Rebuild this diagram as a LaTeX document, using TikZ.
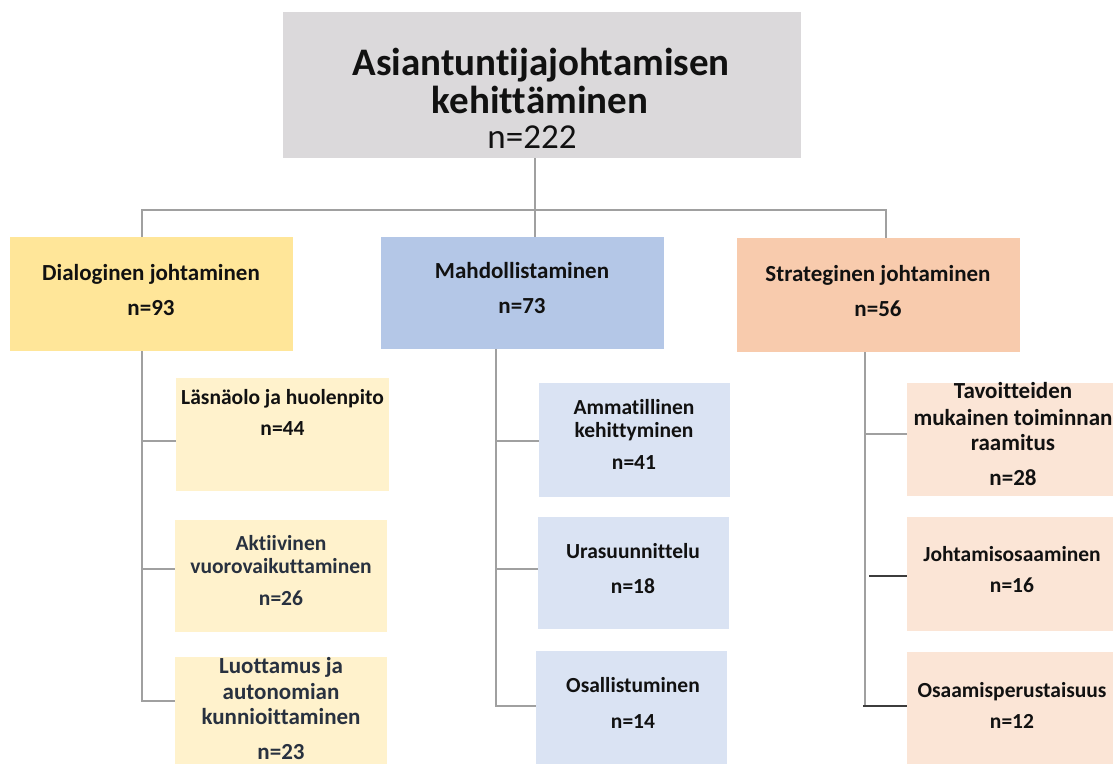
\documentclass[tikz,border=0pt]{standalone}
\usepackage{fontspec}
\setmainfont{Carlito}[Ligatures=NoCommon]
\definecolor{topfill}{HTML}{DBD9DB}
\definecolor{dialfill}{HTML}{FFE699}
\definecolor{dialsub}{HTML}{FFF2CC}
\definecolor{mahdfill}{HTML}{B4C7E7}
\definecolor{mahdsub}{HTML}{DAE3F3}
\definecolor{stratfill}{HTML}{F8CBAD}
\definecolor{stratsub}{HTML}{FBE5D6}
\definecolor{linegray}{HTML}{A0A0A0}
\definecolor{linedark}{HTML}{3C3C3C}
\definecolor{inkdark}{HTML}{111111}
\definecolor{inkslate}{HTML}{28313F}
\begin{document}
\begin{tikzpicture}[x=1pt,y=-1pt,
  box/.style={draw=none,inner sep=0pt,outer sep=0pt,anchor=north west},
  conn/.style={draw=linegray,line width=1.4pt},
  conndark/.style={draw=linedark,line width=1.4pt},
  ttl/.style={anchor=base,inner sep=0pt,text=inkdark,font=\fontsize{39}{46}\selectfont\bfseries},
  ttn/.style={anchor=base,inner sep=0pt,text=inkdark,font=\fontsize{35}{42}\selectfont},
  lvl/.style={anchor=base,inner sep=0pt,text=inkdark,font=\fontsize{23}{28}\selectfont\bfseries},
  sub/.style={anchor=base,inner sep=0pt,text=inkdark,font=\fontsize{21.5}{26}\selectfont\bfseries},
  subw/.style={sub,font=\fontsize{23}{28}\selectfont\bfseries},
  subs/.style={sub,text=inkslate},
  subl/.style={anchor=base,inner sep=0pt,text=inkslate,font=\fontsize{23}{28}\selectfont\bfseries}]
\useasboundingbox (0,0) rectangle (1113,763);
\clip (0,0) rectangle (1113,763);

% boxes
\node[box,fill=topfill,minimum width=518pt,minimum height=146pt] (top) at (283,12) {};
\node[box,fill=dialfill,minimum width=283pt,minimum height=114pt] (dial) at (10,237) {};
\node[box,fill=mahdfill,minimum width=283pt,minimum height=112pt] (mahd) at (381,237) {};
\node[box,fill=stratfill,minimum width=283pt,minimum height=114pt] (strat) at (737,238) {};

\node[box,fill=dialsub,minimum width=213pt,minimum height=113pt] (l1) at (176,378) {};
\node[box,fill=dialsub,minimum width=212pt,minimum height=112pt] (l2) at (175,520) {};
\node[box,fill=dialsub,minimum width=212pt,minimum height=118pt] (l3) at (175,657) {};

\node[box,fill=mahdsub,minimum width=191pt,minimum height=114pt] (m1) at (539,383) {};
\node[box,fill=mahdsub,minimum width=191pt,minimum height=112pt] (m2) at (538,517) {};
\node[box,fill=mahdsub,minimum width=191pt,minimum height=124pt] (m3) at (536,651) {};

\node[box,fill=stratsub,minimum width=212pt,minimum height=113pt] (s1) at (907,383) {};
\node[box,fill=stratsub,minimum width=212pt,minimum height=114pt] (s2) at (907,517) {};
\node[box,fill=stratsub,minimum width=212pt,minimum height=123pt] (s3) at (907,652) {};

% tree lines
\coordinate (trunk) at (535,210);
\coordinate (busL) at (142,210);
\coordinate (busR) at (886,210);
\draw[conn] (trunk |- top.south) -- (trunk |- mahd.north);
\draw[conn] (busL |- dial.north) -- (busL) -- (busR) -- (busR |- strat.north);

\coordinate (dj1) at (142,441);
\coordinate (dj2) at (142,569);
\coordinate (dj3) at (142,701);
\draw[conn] (dj3 |- dial.south) -- (dj3) -- (dj3 -| l3.west);
\draw[conn] (dj1) -- (dj1 -| l1.west);
\draw[conn] (dj2) -- (dj2 -| l2.west);

\coordinate (mj1) at (496,441);
\coordinate (mj2) at (496,569);
\coordinate (mj3) at (496,706);
\draw[conn] (mj3 |- mahd.south) -- (mj3) -- (mj3 -| m3.west);
\draw[conn] (mj1) -- (mj1 -| m1.west);
\draw[conn] (mj2) -- (mj2 -| m2.west);

\coordinate (sj1) at (865,434);
\coordinate (sj3) at (865,705);
\draw[conn] (sj3 |- strat.south) -- (sj3);
\draw[conn] (sj1) -- (sj1 -| s1.west);
\coordinate (sk2) at (869,576);
\coordinate (sk3) at (863,706);
\draw[conndark] (sk2) -- (sk2 -| s2.west);
\draw[conndark] (sk3) -- (sk3 -| s3.west);

% texts
\node[ttl] (topA) at (541,75) {Asiantuntijajohtamisen};
\node[ttl] (topB) at (540,113) {kehittäminen};
\node[ttn] (topN) at (532,148) {n=222};

\node[lvl] (dialA) at (151,280) {Dialoginen johtaminen};
\node[lvl] (dialN) at (151,315) {n=93};
\node[lvl] (mahdA) at (522,278) {Mahdollistaminen};
\node[lvl] (mahdN) at (522,313) {n=73};
\node[lvl] (stratA) at (878,281) {Strateginen johtaminen};
\node[lvl] (stratN) at (878,316) {n=56};

\node[sub] (l1A) at (282.5,404) {Läsnäolo ja huolenpito};
\node[sub] (l1N) at (282.5,435) {n=44};
\node[subs] (l2A) at (281,550) {Aktiivinen};
\node[subs] (l2B) at (281,573) {vuorovaikuttaminen};
\node[subs] (l2N) at (281,605) {n=26};
\node[subl] (l3A) at (281,673) {Luottamus ja};
\node[subl] (l3B) at (281,699) {autonomian};
\node[subl] (l3C) at (281,724) {kunnioittaminen};
\node[subl] (l3N) at (281,759) {n=23};

\node[sub] (m1A) at (634,414) {Ammatillinen};
\node[sub] (m1B) at (634,437) {kehittyminen};
\node[sub] (m1N) at (634,469) {n=41};
\node[sub] (m2A) at (633,558) {Urasuunnittelu};
\node[sub] (m2N) at (633,593) {n=18};
\node[sub] (m3A) at (633,692) {Osallistuminen};
\node[sub] (m3N) at (633,728) {n=14};

\node[subw] (s1A) at (1013,398) {Tavoitteiden};
\node[subw] (s1B) at (1013,425) {mukainen toiminnan};
\node[subw] (s1C) at (1013,450) {raamitus};
\node[subw] (s1N) at (1013,485) {n=28};
\node[sub] (s2A) at (1012,561) {Johtamisosaaminen};
\node[sub] (s2N) at (1012,592) {n=16};
\node[sub] (s3A) at (1012,697) {Osaamisperustaisuus};
\node[sub] (s3N) at (1012,728) {n=12};
\end{tikzpicture}
\end{document}
